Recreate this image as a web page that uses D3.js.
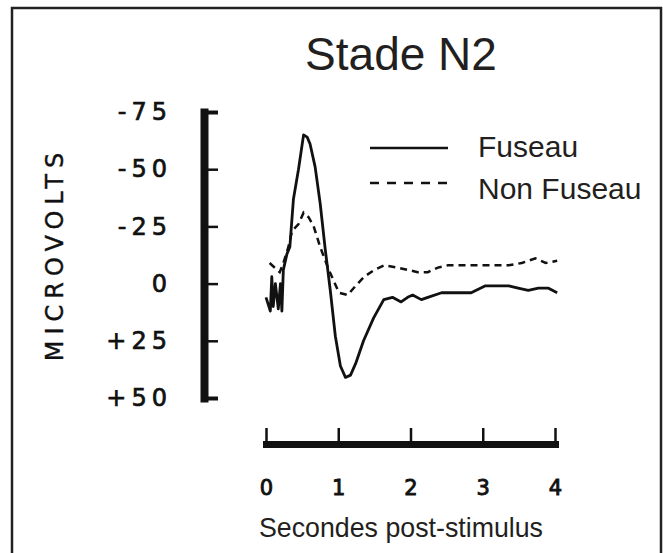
<!DOCTYPE html>
<html>
<head>
<meta charset="utf-8">
<script src="https://cdn.jsdelivr.net/npm/d3@7"></script>
<style>
  html, body { margin: 0; padding: 0; background: #fff; }
  svg { display: block; }
</style>
</head>
<body>
<svg id="chart" width="663" height="553"></svg>
<script>
// ---- data ----
const title = "Stade N2";
const yAxisTitle = "MICROVOLTS";
const xAxisTitle = "Secondes post-stimulus";
const seriesNames = ["Fuseau", "Non Fuseau"];

const yTickValues = [-75, -50, -25, 0, 25, 50];
const yTickLabels = ["-75", "-50", "-25", "0", "+25", "+50"];
const xTickValues = [0, 1, 2, 3, 4];
const xTickLabels = ["0", "1", "2", "3", "4"];

const fuseauT = [0, 0.06, 0.08, 0.10, 0.13, 0.17, 0.20, 0.22, 0.24, 0.29, 0.33, 0.38, 0.45, 0.52, 0.57, 0.61, 0.68, 0.75, 0.82, 0.89, 0.96, 1.03, 1.10, 1.17, 1.24, 1.35, 1.49, 1.63, 1.75, 1.87, 1.96, 2.03, 2.15, 2.24, 2.43, 2.61, 2.84, 3.03, 3.22, 3.36, 3.49, 3.63, 3.77, 3.91, 4.03];
const fuseauV = [6, 12, -3, 10, 0, 11, 0, 12, -6, -13, -16, -37, -50, -65, -64, -61, -51, -35, -15, 3, 23, 36, 41, 40, 35, 25, 15, 7, 6, 8, 6, 5, 7, 6, 4, 4, 4, 1, 1, 1, 2, 3, 2, 2, 4];

const nonFuseauT = [0.05, 0.19, 0.24, 0.31, 0.36, 0.45, 0.52, 0.59, 0.66, 0.75, 0.87, 0.94, 1.01, 1.13, 1.24, 1.36, 1.50, 1.64, 1.82, 1.96, 2.10, 2.24, 2.38, 2.52, 2.70, 2.89, 3.12, 3.36, 3.54, 3.73, 3.87, 4.03];
const nonFuseauV = [-9, -5, -9, -16, -23, -26, -31, -29, -25, -16, -6, -1, 4, 5, 1, -3, -6, -8, -7, -6, -5, -5, -7, -8, -8, -8, -8, -8, -9, -11, -9, -10];

// ---- drawing ----
const svg = d3.select("#chart");
const ink = "#111";
const textInk = "#231f20";

// outer frame
svg.append("rect")
  .attr("x", 12).attr("y", 8).attr("width", 649).attr("height", 570)
  .attr("fill", "none").attr("stroke", "#222").attr("stroke-width", 2.5);

const x = d3.scaleLinear().domain([0, 4]).range([266, 555]);
const y = d3.scaleLinear().domain([-75, 50]).range([112, 398]);

// title
svg.append("text")
  .attr("x", 401).attr("y", 70)
  .attr("text-anchor", "middle")
  .attr("font-family", "Liberation Sans, Arial, sans-serif")
  .attr("font-size", 46)
  .attr("fill", textInk)
  .text(title);

// y axis
const yAxis = d3.axisLeft(y)
  .tickValues(yTickValues)
  .tickSizeInner(-14)
  .tickSizeOuter(0)
  .tickPadding(32)
  .tickFormat((d, i) => yTickLabels[i]);
const gy = svg.append("g").attr("transform", "translate(204,0)").call(yAxis);
gy.select(".domain").attr("stroke", ink).attr("stroke-width", 8).attr("stroke-linecap", "square");
gy.selectAll(".tick line").attr("stroke", ink).attr("stroke-width", (d, i) => (i === 0 || i === yTickValues.length - 1) ? 4 : 2.5);
gy.selectAll(".tick text")
  .attr("fill", ink)
  .attr("stroke", ink)
  .attr("stroke-width", 0.7)
  .attr("font-family", "DejaVu Sans, sans-serif")
  .attr("font-size", 24)
  .attr("letter-spacing", 5);

// y axis title
svg.append("text")
  .attr("transform", "translate(63,254) rotate(-90)")
  .attr("text-anchor", "middle")
  .attr("font-family", "DejaVu Sans, sans-serif")
  .attr("font-size", 24)
  .attr("letter-spacing", 6)
  .attr("fill", ink)
  .attr("stroke", ink)
  .attr("stroke-width", 0.4)
  .text(yAxisTitle);

// x axis
const xAxis = d3.axisBottom(x)
  .tickValues(xTickValues)
  .tickSizeInner(-16)
  .tickSizeOuter(0)
  .tickPadding(36)
  .tickFormat((d, i) => xTickLabels[i]);
const gx = svg.append("g").attr("transform", "translate(0,444)").call(xAxis);
gx.select(".domain").attr("stroke", ink).attr("stroke-width", 7).attr("stroke-linecap", "square");
gx.selectAll(".tick line").attr("stroke", ink).attr("stroke-width", 2.5);
gx.selectAll(".tick text")
  .attr("fill", ink)
  .attr("stroke", ink)
  .attr("stroke-width", 0.9)
  .attr("font-family", "DejaVu Sans, sans-serif")
  .attr("font-size", 21);

// x axis title
svg.append("text")
  .attr("x", 401).attr("y", 537)
  .attr("text-anchor", "middle")
  .attr("font-family", "Liberation Sans, Arial, sans-serif")
  .attr("font-size", 28)
  .attr("textLength", 284)
  .attr("lengthAdjust", "spacingAndGlyphs")
  .attr("fill", textInk)
  .text(xAxisTitle);

// lines
const line = d3.line().x(d => x(d[0])).y(d => y(d[1]));
const fuseau = fuseauT.map((t, i) => [t, fuseauV[i]]);
const nonFuseau = nonFuseauT.map((t, i) => [t, nonFuseauV[i]]);

svg.append("path").datum(nonFuseau)
  .attr("d", line)
  .attr("fill", "none").attr("stroke", ink).attr("stroke-width", 2.5)
  .attr("stroke-dasharray", "7,5");

svg.append("path").datum(fuseau)
  .attr("d", line)
  .attr("fill", "none").attr("stroke", ink).attr("stroke-width", 2.8)
  .attr("stroke-linejoin", "round");

// legend
const legend = svg.append("g");
const legendY = [148, 183];
const legendDash = [null, "9,8"];
seriesNames.forEach((name, i) => {
  legend.append("line")
    .attr("x1", 370).attr("x2", 448)
    .attr("y1", legendY[i]).attr("y2", legendY[i])
    .attr("stroke", ink).attr("stroke-width", 2.5)
    .attr("stroke-dasharray", legendDash[i]);
  legend.append("text")
    .attr("x", 478).attr("y", legendY[i] + 9 + (i === 1 ? 7 : 0))
    .attr("font-family", "Liberation Sans, Arial, sans-serif")
    .attr("font-size", 30)
    .attr("fill", textInk)
    .text(name);
});
</script>
</body>
</html>
